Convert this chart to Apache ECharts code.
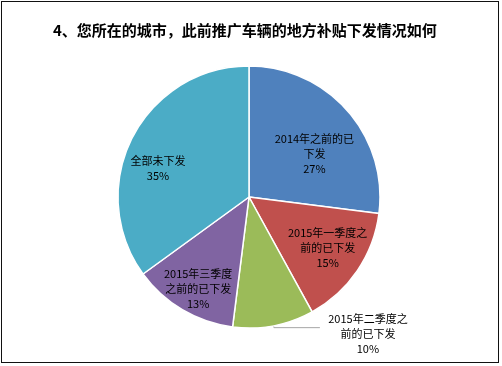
<!DOCTYPE html>
<html>
<head>
<meta charset="utf-8">
<script src="https://cdn.jsdelivr.net/npm/echarts@6/dist/echarts.min.js"></script>
<style>
html,body{margin:0;padding:0;background:#fff;}
#wrap{position:relative;width:502px;height:366px;}
#c{position:absolute;left:0;top:0;width:502px;height:366px;}
#frame{position:absolute;left:1px;top:1px;width:496px;height:360px;border:1.5px solid #111;pointer-events:none;}
</style>
</head>
<body>
<div id="wrap"><div id="c"></div><div id="frame"></div></div>
<script>
const titleText = '4、您所在的城市，此前推广车辆的地方补贴下发情况如何';
const categories = ['2014年之前的已下发', '2015年一季度之前的已下发', '2015年二季度之前的已下发', '2015年三季度之前的已下发', '全部未下发'];
const labelLines = [
  ['2014年之前的已', '下发'],
  ['2015年一季度之', '前的已下发'],
  ['2015年二季度之', '前的已下发'],
  ['2015年三季度', '之前的已下发'],
  ['全部未下发']
];
const values = [27, 15, 10, 13, 35];
const colors = ['#4F81BD', '#C0504D', '#9BBB59', '#8064A2', '#4BACC6'];
// label nudges (style only)
const labelShift = [[14, 2], [22, 12], [0, 6], [-16, 33], [-30, 2]];
const FONT = '"Noto Sans CJK SC", "Noto Sans", sans-serif';

const data = categories.map((name, i) => {
  const item = { name: name, value: values[i], itemStyle: { color: colors[i] } };
  if (i === 2) {
    item.label = {
      position: 'outside',
      formatter: p => labelLines[i].map(s => '{a|' + s + '}').join('\n') + '\n{a|' + p.value + '%}',
      rich: { a: { width: 86, align: 'center', fontSize: 11, lineHeight: 15, color: '#000', fontFamily: FONT } }
    };
    item.labelLine = { show: true, length: 2, length2: 46, lineStyle: { color: '#A6A6A6', width: 1 } };
  } else {
    item.label = {
      position: 'inside',
      formatter: p => labelLines[i].join('\n') + '\n' + p.value + '%'
    };
  }
  return item;
});

const chart = echarts.init(document.getElementById('c'), null, { renderer: 'canvas' });
chart.setOption({
  animation: false,
  title: {
    text: titleText,
    left: 48,
    top: 18,
    padding: 5,
    textStyle: { fontSize: 15, fontWeight: 'bold', color: '#000', fontFamily: FONT }
  },
  series: [{
    type: 'pie',
    center: [249, 197],
    radius: [0, 131],
    startAngle: 90,
    clockwise: true,
    avoidLabelOverlap: false,
    itemStyle: { borderColor: '#fff', borderWidth: 1.5 },
    label: { fontSize: 11, lineHeight: 15, color: '#000', fontFamily: FONT, align: 'center' },
    labelLine: { show: false },
    labelLayout: function (params) {
      const s = labelShift[params.dataIndex];
      return { dx: s[0], dy: s[1] };
    },
    data: data
  }]
});
</script>
</body>
</html>
